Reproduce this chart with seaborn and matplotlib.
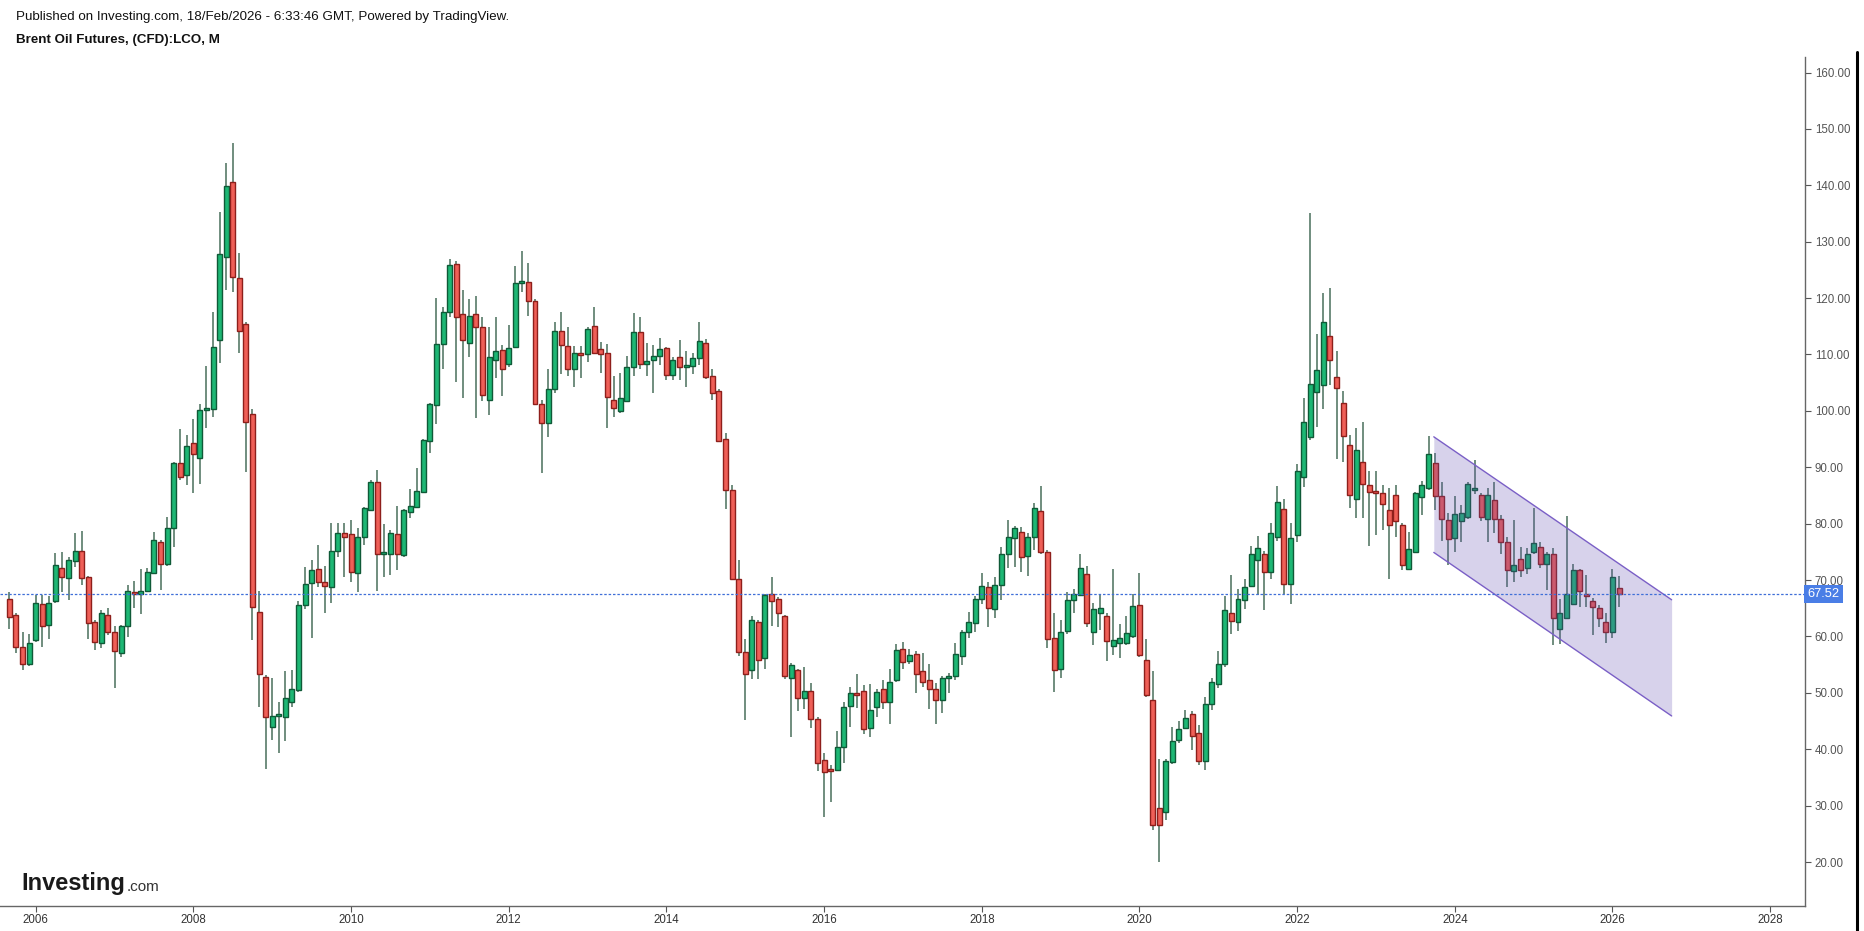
import numpy as np
import pandas as pd
import seaborn as sns
import matplotlib
matplotlib.use("Agg")
from matplotlib import pyplot as plt
from matplotlib import transforms

# ---------------------------- data (monthly OHLC) ---------------------------- #
start_month = "2005-09"

opens = [
    66.7, 63.8, 58.2, 55.1,
    59.4, 65.7, 62.0, 66.2, 72.1, 70.3, 73.4, 75.1, 70.5, 62.6, 58.9, 63.8,
    60.8, 57.1, 61.8, 67.8, 67.5, 68.1, 71.2, 76.8, 72.8, 79.2, 90.8, 88.7,
    94.3, 91.6, 100.1, 100.3, 112.6, 127.2, 140.5, 123.5, 115.4, 99.4, 64.4, 52.8,
    44.0, 45.9, 45.7, 48.4, 50.5, 65.5, 69.5, 71.9, 69.6, 68.8, 75.1, 78.4,
    78.2, 71.3, 77.6, 82.4, 87.4, 74.6, 74.7, 78.1, 74.4, 82.1, 83.0, 85.7,
    94.7, 101.0, 111.8, 117.6, 126.0, 117.1, 112.1, 117.1, 114.9, 102.0, 109.0, 110.8,
    108.3, 111.3, 122.7, 122.9, 119.4, 101.3, 97.8, 103.8, 114.2, 111.5, 107.5, 110.2,
    110.0, 115.0, 110.9, 110.2, 101.9, 100.0, 101.8, 107.8, 114.0, 108.3, 109.0, 109.7,
    111.1, 106.4, 109.5, 107.8, 108.0, 109.4, 112.0, 106.2, 103.5, 95.0, 85.9, 70.2,
    57.3, 54.0, 62.6, 56.1, 67.5, 66.6, 63.6, 52.6, 54.0, 49.0, 50.4, 45.3,
    38.1, 36.4, 36.4, 40.4, 47.7, 49.9, 50.4, 43.7, 47.4, 50.6, 48.4, 52.2,
    57.7, 55.7, 56.9, 53.9, 52.2, 50.6, 48.7, 52.7, 52.9, 56.5, 60.8, 62.4,
    66.6, 68.7, 64.9, 69.2, 74.7, 77.4, 78.6, 74.3, 77.6, 82.3, 75.0, 59.8,
    54.3, 61.0, 66.5, 67.3, 71.1, 60.8, 64.1, 63.6, 58.3, 58.8, 58.8, 60.1,
    65.6, 55.9, 48.8, 29.5, 28.8, 37.7, 41.6, 43.8, 46.2, 42.8, 37.9, 48.0,
    51.5, 55.1, 64.2, 62.6, 66.4, 68.9, 73.5, 74.6, 71.5, 77.6, 82.6, 69.3,
    77.9, 88.3, 95.4, 103.3, 104.5, 113.3, 106.0, 101.4, 94.0, 84.4, 91.0, 86.9,
    85.7, 85.4, 82.5, 85.1, 79.8, 71.9, 74.9, 84.8, 86.3, 90.7, 84.9, 80.6,
    77.4, 80.5, 81.2, 86.0, 85.1, 80.9, 84.2, 80.9, 76.8, 71.6, 73.7, 72.1,
    74.9, 75.9, 72.9, 74.7, 61.3, 63.2, 65.7, 71.8, 67.5, 66.2, 65.1, 62.6,
    60.8, 68.6,
]
highs = [
    67.9, 64.1, 60.7, 60.5,
    67.3, 67.3, 67.2, 74.8, 75.0, 74.0, 78.4, 78.7, 70.7, 62.9, 64.7, 65.0,
    61.8, 62.0, 69.1, 69.8, 71.9, 72.2, 78.6, 77.1, 81.1, 91.0, 96.7, 95.8,
    98.5, 101.2, 108.0, 117.6, 135.2, 144.0, 147.5, 128.0, 115.8, 100.3, 68.0, 53.2,
    52.7, 48.4, 53.8, 54.1, 66.2, 72.4, 73.6, 76.2, 72.5, 80.2, 80.2, 80.2,
    80.7, 79.2, 82.9, 87.8, 89.6, 79.9, 78.9, 83.1, 82.6, 86.1, 89.8, 95.1,
    101.4, 120.0, 118.5, 127.0, 126.6, 121.5, 119.8, 120.4, 116.7, 114.8, 116.6, 111.7,
    115.2, 125.7, 128.4, 126.2, 119.9, 102.0, 107.4, 115.8, 117.6, 114.9, 111.5, 111.5,
    114.9, 118.4, 112.3, 111.9, 106.1, 106.8, 109.7, 117.3, 116.6, 112.1, 111.7, 113.0,
    111.4, 109.6, 112.6, 110.7, 110.3, 115.7, 112.7, 107.5, 103.8, 96.0, 86.8, 73.5,
    59.5, 63.6, 62.9, 67.6, 70.5, 67.0, 63.8, 55.3, 54.3, 54.5, 51.8, 45.8,
    39.3, 37.2, 43.3, 48.4, 51.0, 53.3, 51.4, 51.6, 50.6, 52.3, 54.3, 58.7,
    59.1, 57.7, 57.5, 57.1, 55.1, 51.7, 52.9, 53.6, 58.9, 61.1, 64.4, 67.1,
    71.3, 69.7, 70.5, 75.8, 80.6, 79.6, 79.4, 78.3, 83.6, 86.7, 75.3, 64.1,
    63.0, 67.9, 68.5, 74.7, 72.5, 66.0, 67.5, 64.1, 71.9, 62.2, 63.7, 67.5,
    71.2, 59.6, 53.9, 38.2, 38.2, 44.0, 45.0, 46.9, 46.8, 44.3, 49.2, 52.7,
    57.5, 67.2, 70.9, 68.5, 70.1, 76.1, 77.8, 75.1, 80.2, 86.7, 84.4, 80.2,
    90.5, 102.3, 135.0, 113.7, 120.9, 121.8, 110.7, 103.5, 95.8, 96.9, 98.1, 89.4,
    89.3, 86.9, 86.3, 86.9, 80.2, 78.5, 85.7, 87.5, 95.5, 92.6, 87.3, 81.9,
    84.9, 83.3, 87.3, 91.3, 85.5, 86.3, 87.4, 81.5, 77.7, 80.6, 75.8, 75.6,
    82.7, 76.8, 74.9, 75.6, 66.7, 81.4, 72.8, 71.9, 70.9, 66.8, 65.6, 64.2,
    71.9, 70.7,
]
lows = [
    61.3, 57.1, 54.0, 54.8,
    59.0, 58.2, 59.5, 65.9, 67.9, 66.5, 72.4, 69.1, 59.5, 57.6, 57.9, 60.2,
    50.9, 56.3, 59.9, 65.0, 64.0, 67.9, 71.1, 68.2, 72.5, 75.9, 87.7, 86.8,
    85.4, 87.1, 97.0, 99.0, 108.5, 121.4, 121.0, 110.2, 89.1, 59.3, 47.5, 36.5,
    41.6, 39.4, 41.5, 47.4, 50.2, 64.8, 59.7, 68.7, 64.1, 65.9, 74.0, 70.5,
    69.6, 67.9, 76.2, 82.3, 68.1, 70.5, 70.9, 71.8, 74.1, 81.0, 82.7, 85.5,
    92.5, 97.7, 107.4, 116.7, 105.2, 102.3, 109.6, 98.8, 101.8, 99.3, 105.9, 102.6,
    107.8, 111.1, 121.1, 116.8, 101.0, 89.0, 95.4, 103.1, 106.5, 106.1, 104.3, 105.8,
    108.7, 110.1, 106.8, 96.9, 98.9, 99.7, 101.6, 106.1, 107.4, 106.1, 103.1, 108.1,
    105.5, 105.4, 105.5, 104.2, 106.6, 108.2, 105.6, 101.9, 94.6, 82.6, 70.1, 56.5,
    45.2, 52.4, 52.5, 54.3, 61.9, 61.7, 52.4, 42.2, 46.8, 47.2, 43.8, 36.2,
    28.0, 30.7, 36.2, 37.5, 44.0, 47.3, 42.7, 42.1, 45.8, 47.2, 44.4, 52.0,
    54.3, 55.1, 50.0, 51.0, 47.1, 44.4, 46.5, 49.9, 52.3, 54.9, 59.8, 60.8,
    65.8, 61.6, 63.2, 66.5, 72.1, 72.4, 71.5, 70.7, 75.3, 74.6, 57.9, 50.2,
    52.7, 60.5, 64.1, 67.1, 61.6, 58.5, 61.1, 55.7, 56.7, 56.2, 58.5, 59.7,
    56.3, 49.2, 25.6, 20.0, 27.4, 37.4, 41.1, 43.5, 39.8, 37.2, 36.3, 46.9,
    50.9, 54.5, 60.4, 61.0, 64.8, 68.8, 67.4, 64.6, 70.1, 77.0, 67.5, 65.7,
    76.7, 86.5, 94.8, 97.2, 100.3, 104.5, 91.5, 91.0, 82.8, 81.0, 81.0, 76.0,
    78.0, 78.9, 70.2, 77.6, 71.7, 71.8, 74.8, 81.6, 86.0, 82.4, 76.9, 72.6,
    74.9, 76.8, 80.8, 85.2, 80.5, 76.8, 78.3, 74.7, 68.8, 69.7, 70.6, 71.1,
    74.7, 72.2, 68.2, 58.5, 58.7, 63.1, 65.6, 65.2, 65.3, 60.2, 61.7, 58.9,
    59.8, 65.3,
]
closes = [
    63.5, 58.2, 55.1, 58.9,
    66.0, 61.8, 66.0, 72.7, 70.5, 73.6, 75.1, 70.3, 62.4, 59.1, 64.2, 60.8,
    57.4, 61.8, 68.1, 67.6, 68.1, 71.4, 77.1, 72.8, 79.2, 90.7, 88.3, 93.8,
    92.3, 100.1, 100.5, 111.3, 127.8, 139.8, 123.8, 114.1, 98.1, 65.3, 53.4, 45.7,
    45.9, 46.3, 49.1, 50.6, 65.5, 69.3, 71.8, 69.6, 69.0, 75.1, 78.4, 77.7,
    71.4, 77.7, 82.7, 87.4, 74.7, 75.0, 78.3, 74.6, 82.4, 83.1, 85.8, 94.8,
    101.2, 111.8, 117.5, 125.9, 116.6, 112.6, 116.8, 114.9, 102.8, 109.6, 110.6, 107.4,
    111.1, 122.7, 122.9, 119.4, 101.3, 97.9, 103.8, 114.2, 111.6, 107.5, 110.2, 109.9,
    114.6, 110.3, 110.0, 102.4, 100.5, 102.2, 107.8, 114.0, 108.3, 108.9, 109.7, 110.9,
    106.4, 109.1, 107.7, 108.2, 109.4, 112.4, 106.0, 103.2, 94.7, 85.9, 70.2, 57.3,
    53.3, 63.0, 55.8, 67.3, 66.2, 64.2, 52.9, 55.0, 49.0, 50.4, 45.3, 37.6,
    36.0, 36.2, 40.4, 47.4, 49.9, 49.7, 43.5, 47.0, 50.2, 48.4, 52.0, 57.6,
    55.5, 56.7, 53.3, 52.0, 50.6, 48.7, 52.7, 52.9, 56.9, 60.8, 62.6, 66.6,
    69.0, 65.0, 69.2, 74.7, 77.6, 79.2, 74.1, 77.6, 82.7, 75.0, 59.5, 54.0,
    60.8, 66.5, 67.5, 72.1, 62.3, 64.8, 65.0, 59.2, 59.4, 59.7, 60.6, 65.4,
    56.7, 49.6, 26.6, 26.6, 37.9, 41.4, 43.6, 45.6, 42.4, 37.9, 48.0, 51.9,
    55.1, 64.6, 62.8, 66.7, 68.8, 74.6, 75.7, 71.5, 78.4, 83.8, 69.3, 77.5,
    89.4, 98.0, 104.8, 107.2, 115.7, 109.1, 104.0, 95.6, 85.1, 93.0, 87.1, 85.7,
    85.5, 83.5, 79.8, 80.4, 72.7, 75.5, 85.5, 86.9, 92.4, 84.9, 80.8, 77.2,
    81.8, 81.9, 87.1, 86.3, 81.1, 85.1, 80.8, 76.8, 71.8, 72.7, 71.8, 74.7,
    76.6, 72.8, 74.7, 63.2, 64.1, 67.6, 71.8, 68.1, 67.2, 65.2, 63.2, 60.8,
    70.6, 67.52,
]

last_price = 67.52
year_ticks = list(range(2006, 2030, 2))
price_ticks = list(range(20, 170, 10))

# descending channel drawn on the chart (months since Jan 2006, price)
channel_months = [212.8, 249.0]
channel_upper = [95.4, 66.5]
channel_lower = [74.9, 45.9]

# ---------------------------- build frame ---------------------------- #
dates = pd.period_range(start_month, periods=len(closes), freq="M")
df = pd.DataFrame({"open": opens, "high": highs, "low": lows, "close": closes})
df["m"] = (dates.year - 2006) * 12 + (dates.month - 1)
df["up"] = df["close"] >= df["open"]

GREEN, GREEN_EDGE = "#1db774", "#0f5a37"
RED, RED_EDGE = "#ef5f57", "#8e1f1b"
WICK = "#587a68"

sns.set_theme(style="white")
plt.rcParams["font.family"] = ["Liberation Sans", "DejaVu Sans"]

fig = plt.figure(figsize=(18.64, 9.31), dpi=100)
ax = fig.add_axes([0.0, 1 - 906 / 931, 1805 / 1864, (906 - 57) / 931])

# wicks
ax.vlines(df["m"], df["low"], df["high"], colors=WICK, linewidth=1.2, zorder=1)

# bodies
body_low = np.minimum(df["open"], df["close"])
body_h = np.maximum(np.abs(df["close"] - df["open"]), 0.3)
ax.bar(df["m"], body_h, bottom=body_low, width=0.76,
       color=np.where(df["up"], GREEN, RED),
       edgecolor=np.where(df["up"], GREEN_EDGE, RED_EDGE),
       linewidth=1.0, zorder=2)

# channel
ax.fill_between(channel_months, channel_lower, channel_upper,
                color="#634fb3", alpha=0.25, linewidth=0, zorder=3)
ch = pd.DataFrame({"m": channel_months * 2,
                   "p": channel_upper + channel_lower,
                   "side": ["up", "up", "lo", "lo"]})
sns.lineplot(data=ch, x="m", y="p", units="side", estimator=None,
             color="#7a5fc6", linewidth=1.0, ax=ax, legend=False, zorder=4)

# last price line
ax.axhline(last_price, color="#3f6fd8", linestyle=(0, (2, 1.5)),
           linewidth=0.9, zorder=5)

ax.set_xlim(-5.43, 269.3)
ax.set_ylim(12.2, 162.75)
ax.set_xlabel("")
ax.set_ylabel("")

ax.set_xticks([(y - 2006) * 12 for y in year_ticks])
ax.set_xticklabels([str(y) for y in year_ticks])
ax.yaxis.tick_right()
ax.set_yticks(price_ticks)
ax.set_yticklabels([f"{p:.2f}" for p in price_ticks])
ax.tick_params(axis="y", which="both", right=True, length=4, width=0.8,
               color="#555555", labelsize=8.3, labelcolor="#555555", pad=3)
ax.tick_params(axis="x", which="both", bottom=True, length=4, width=0.8,
               color="#555555", labelsize=8.3, labelcolor="#333333", pad=2)

for side in ["top", "left"]:
    ax.spines[side].set_visible(False)
for side in ["right", "bottom"]:
    ax.spines[side].set_color("#666666")
    ax.spines[side].set_linewidth(1.0)
ax.grid(False)

# price label on the axis
trans = transforms.blended_transform_factory(ax.transAxes, ax.transData)
ax.text(1.0015, last_price, f"{last_price:.2f}", transform=trans,
        ha="left", va="center", fontsize=9.3, color="white", zorder=10,
        clip_on=False,
        bbox=dict(boxstyle="square,pad=0.25", fc="#4a7ee6", ec="none"))

# header
fig.text(16 / 1864, 1 - 17 / 931,
         "Published on Investing.com, 18/Feb/2026 - 6:33:46 GMT, Powered by TradingView.",
         fontsize=9.6, color="#111111", va="center", ha="left")
fig.text(16 / 1864, 1 - 40 / 931, "Brent Oil Futures, (CFD):LCO, M",
         fontsize=9.6, fontweight="bold", color="#111111", va="center", ha="left")

# logo
logo = fig.text(21 / 1864, 1 - 890 / 931, "Investing", fontsize=17,
                fontweight="bold", color="#1a1a1a", va="baseline", ha="left")
ax.annotate(".com", xy=(1, 0), xycoords=logo, xytext=(1, 1),
            textcoords="offset points", fontsize=11, color="#333333",
            va="bottom", ha="left", annotation_clip=False)

# right border line of the screenshot
fig.add_artist(plt.Line2D([1857 / 1864] * 2, [0, 1 - 52 / 931],
                          color="black", linewidth=2.2))

fig.savefig("out.png", dpi=100, facecolor="white")
